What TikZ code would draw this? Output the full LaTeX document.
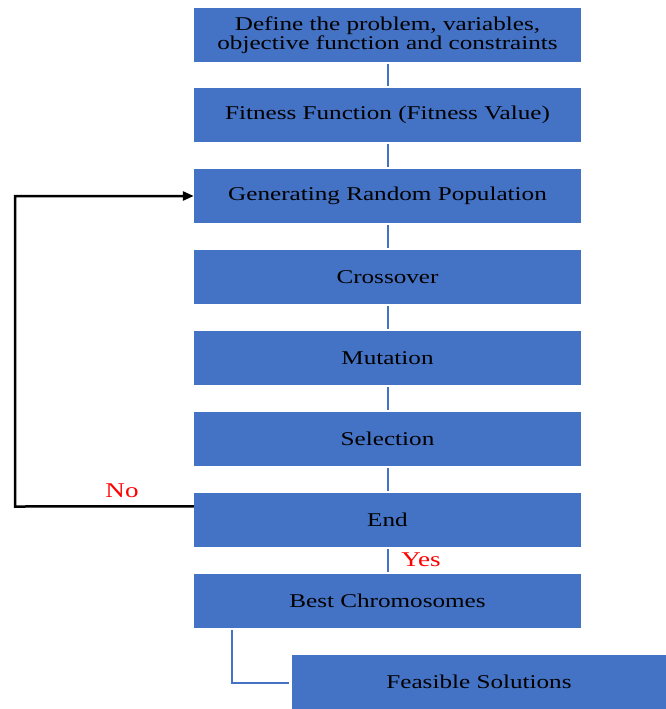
\documentclass[tikz,border=0pt]{standalone}
\usepackage{fontspec}
\setmainfont[FakeStretch=1.29]{Liberation Serif}
\usetikzlibrary{arrows.meta,calc}
\definecolor{boxblue}{HTML}{4472C4}
\begin{document}
\begin{tikzpicture}[x=1bp,y=-1bp,
  flowbox/.style={fill=boxblue,draw=none,minimum width=387bp,minimum height=54bp,
    inner sep=0pt,align=center,font=\fontsize{19.5bp}{18.5bp}\selectfont,text=black},
  link/.style={draw=boxblue,line width=2bp,shorten <=2bp,shorten >=2bp},
  loopline/.style={draw=black,line width=2.5bp},
  answer/.style={text=red,font=\fontsize{21bp}{22bp}\selectfont,inner sep=0pt}]
\useasboundingbox (0,0) rectangle (666,709);

\node[flowbox] (def) at (387.5,35) {Define the problem, variables,\\objective function and constraints};
\node[flowbox] (fit) at (387.5,115) {Fitness Function (Fitness Value)};
\node[flowbox] (gen) at (387.5,196) {Generating Random Population};
\node[flowbox] (cro) at (387.5,277) {Crossover};
\node[flowbox] (mut) at (387.5,358) {Mutation};
\node[flowbox] (sel) at (387.5,439) {Selection};
\node[flowbox] (end) at (387.5,520) {End};
\node[flowbox] (best) at (387.5,601) {Best Chromosomes};
\node[flowbox,minimum width=374bp] (feas) at (479,682) {Feasible Solutions};

% main chain
\foreach \a/\b in {def/fit,fit/gen,gen/cro,cro/mut,mut/sel,sel/end,end/best}
  \draw[link] (\a.south) -- (\b.north);

% best chromosomes to feasible solutions
\coordinate (bestout) at ($(best.south west)+(38,0)$);
\draw[draw=boxblue,line width=2bp] ($(bestout)+(0,2)$) |- ($(feas.west)+(-3,1)$);

% loop back when not finished
\coordinate (noout) at ($(end.north west)!0.25!(end.south west)$);
\coordinate (loopl) at (15,506.5);
\draw[loopline,-{Triangle[length=11bp,width=9bp]}] (noout) -- (loopl) |- (gen.west);

\node[answer] (no) at (122,491) {No};
\node[answer] (yes) at (421,560) {Yes};
\end{tikzpicture}
\end{document}
